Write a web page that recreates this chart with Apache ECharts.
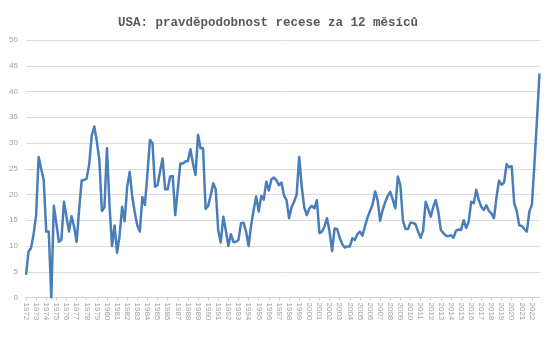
<!DOCTYPE html>
<html>
<head>
<meta charset="utf-8">
<script src="https://cdn.jsdelivr.net/npm/echarts@6/dist/echarts.min.js"></script>
<style>
html,body{margin:0;padding:0;background:#fff;}
#c{width:550px;height:339px;}
</style>
</head>
<body>
<div id="c"></div>
<script>
const title = "USA: pravděpodobnost recese za 12 měsíců";
const years = [];
for (let y = 1972; y <= 2022; y++) years.push(y);
const quarters = ["Q1","Q2","Q3","Q4"];
const yTicks = [0,5,10,15,20,25,30,35,40,45,50];
// quarterly recession probability (%), 1972Q1 .. 2022Q4
const probability = [
  4.4, 8.9, 9.6, 12.3, 16.0, 27.3, 25.0, 22.8, 12.8, 12.8,
  0.0, 17.8, 14.4, 10.8, 11.2, 18.6, 15.7, 12.8, 15.8, 13.8,
  10.8, 17.0, 22.7, 22.8, 23.1, 26.0, 31.5, 33.2, 30.3, 26.7,
  16.8, 17.5, 29.0, 18.0, 10.0, 14.0, 8.7, 12.0, 17.6, 14.8,
  21.5, 24.4, 19.6, 16.5, 14.0, 12.8, 19.5, 18.0, 24.0, 30.6,
  30.0, 21.5, 21.8, 24.5, 27.0, 21.0, 21.0, 23.5, 23.6, 16.0,
  21.0, 26.0, 26.0, 26.4, 26.5, 28.8, 26.0, 23.8, 31.6, 29.0,
  29.0, 17.2, 17.8, 19.8, 22.2, 21.0, 13.0, 10.7, 15.7, 13.0,
  10.0, 12.3, 10.8, 10.8, 11.2, 14.4, 14.5, 12.8, 10.0, 14.0,
  17.0, 19.6, 16.7, 19.7, 19.0, 22.5, 20.8, 22.9, 23.3, 22.8,
  21.8, 22.3, 19.8, 18.9, 15.4, 17.6, 18.6, 20.0, 27.3, 21.5,
  17.5, 16.0, 17.3, 17.8, 17.3, 18.9, 12.5, 12.8, 13.8, 15.4,
  12.8, 9.0, 13.4, 13.3, 11.6, 10.4, 9.7, 9.9, 9.9, 11.5,
  11.2, 12.3, 12.8, 12.0, 13.8, 15.5, 16.8, 18.0, 20.6, 18.9,
  14.9, 17.0, 18.5, 19.7, 20.5, 19.0, 17.3, 23.5, 21.8, 15.0,
  13.3, 13.3, 14.5, 14.5, 14.2, 12.8, 11.6, 13.0, 18.6, 17.2,
  15.7, 17.6, 18.9, 16.6, 13.1, 12.5, 12.0, 11.9, 12.1, 11.6,
  13.0, 13.2, 13.1, 15.0, 13.5, 14.7, 18.6, 18.3, 20.9, 18.9,
  17.6, 17.0, 17.9, 16.8, 16.3, 15.4, 19.5, 22.7, 21.9, 22.3,
  25.9, 25.3, 25.5, 18.3, 16.8, 14.0, 13.9, 13.3, 12.8, 16.7,
  18.0, 26.0, 34.5, 43.5
];

const categories = [];
years.forEach(y => quarters.forEach(q => categories.push(y + " " + q)));

const chart = echarts.init(document.getElementById('c'), null, {renderer: 'canvas'});
chart.setOption({
  backgroundColor: '#ffffff',
  animation: false,
  title: {
    text: title,
    left: 113,
    top: 11,
    textStyle: {
      fontFamily: 'Liberation Mono',
      fontWeight: 'bold',
      fontSize: 12.5,
      color: '#595959'
    }
  },
  grid: { left: 26, right: 10.5, top: 40, bottom: 41.5, containLabel: false },
  xAxis: {
    type: 'category',
    data: categories,
    boundaryGap: false,
    axisLine: { lineStyle: { color: '#d0d0d0', width: 1 } },
    axisTick: { show: true, interval: 3, length: 3, lineStyle: { color: '#d0d0d0' } },
    axisLabel: {
      interval: 3,
      rotate: -90,
      margin: 5,
      color: '#a0a0a0',
      fontSize: 8,
      fontFamily: 'Liberation Sans',
      formatter: v => v.split(' ')[0]
    },
    splitLine: { show: false }
  },
  yAxis: {
    type: 'value',
    min: yTicks[0],
    max: yTicks[yTicks.length - 1],
    interval: 5,
    axisLine: { show: false },
    axisTick: { show: false },
    axisLabel: { color: '#a0a0a0', fontSize: 8, fontFamily: 'Liberation Sans', margin: 8 },
    splitLine: { lineStyle: { color: '#dcdcdc', width: 1 } }
  },
  series: [{
    type: 'line',
    data: probability,
    showSymbol: false,
    symbol: 'none',
    lineStyle: { color: '#4a7ebb', width: 2.5, join: 'round' },
    itemStyle: { color: '#4a7ebb' }
  }]
});
</script>
</body>
</html>
